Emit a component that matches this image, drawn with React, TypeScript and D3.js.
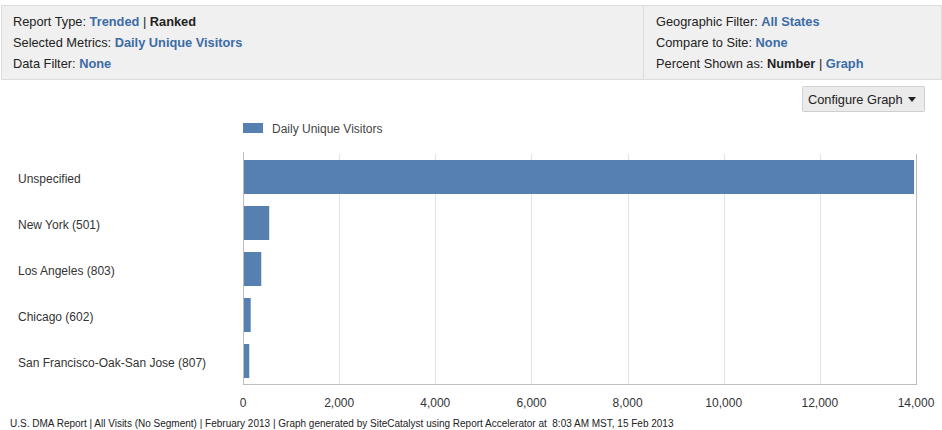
import React from "react";
import * as d3 from "d3";

const categories = [
  "Unspecified",
  "New York (501)",
  "Los Angeles (803)",
  "Chicago (602)",
  "San Francisco-Oak-San Jose (807)",
];
const values = [13960, 545, 380, 160, 130];
const xTicks = [0, 2000, 4000, 6000, 8000, 10000, 12000, 14000];
const seriesName = "Daily Unique Visitors";

const W = 942;
const H = 430;
const FONT = "'Liberation Sans', Arial, Helvetica, sans-serif";
const BLUE = "#3b6ca6";
const BAR = "#5680af";

export default function App() {
  const plot = { left: 243, right: 916, top: 154, bottom: 384 };
  const x = d3.scaleLinear().domain([0, 14000]).range([plot.left, plot.right]);
  const y = d3
    .scaleBand<string>()
    .domain(categories)
    .range([plot.top, plot.bottom])
    .paddingInner(0.26)
    .paddingOuter(0.13);
  const fmt = d3.format(",");

  const headerLeft: [string, string, boolean][][] = [
    [["Report Type: ", "#222", false], ["Trended", BLUE, true], [" | ", "#222", false], ["Ranked", "#222", true]],
    [["Selected Metrics: ", "#222", false], ["Daily Unique Visitors", BLUE, true]],
    [["Data Filter: ", "#222", false], ["None", BLUE, true]],
  ];
  const headerRight: [string, string, boolean][][] = [
    [["Geographic Filter: ", "#222", false], ["All States", BLUE, true]],
    [["Compare to Site: ", "#222", false], ["None", BLUE, true]],
    [["Percent Shown as: ", "#222", false], ["Number", "#222", true], [" | ", "#222", false], ["Graph", BLUE, true]],
  ];
  const lineY = [25.5, 47, 68];

  const renderLines = (lines: [string, string, boolean][][], x0: number) =>
    lines.map((parts, i) => (
      <text key={i} x={x0} y={lineY[i]} fontSize={12.8} fontFamily={FONT}>
        {parts.map((p, j) => (
          <tspan key={j} fill={p[1]} fontWeight={p[2] ? "bold" : "normal"}>
            {p[0]}
          </tspan>
        ))}
      </text>
    ));

  return (
    <svg
      width={W}
      height={H}
      style={{ position: "absolute", left: 0, top: 0, background: "#fff" }}
    >
      {/* header panel */}
      <rect x={1.5} y={5.5} width={940} height={74} fill="#f0f0f0" stroke="#dcdcdc" />
      <line x1={643.5} x2={643.5} y1={6} y2={79} stroke="#dcdcdc" />
      {renderLines(headerLeft, 13)}
      {renderLines(headerRight, 656)}

      {/* configure graph button */}
      <rect x={802.5} y={86.5} width={122} height={25} fill="#ebebeb" stroke="#cfcfcf" rx={1} />
      <text x={808} y={104} fontSize={12.8} fontFamily={FONT} fill="#222">
        Configure Graph
      </text>
      <path d="M908,97 L916,97 L912,102 Z" fill="#222" />

      {/* legend */}
      <rect x={243} y={123} width={20} height={10} fill={BAR} />
      <text x={272} y={133} fontSize={12} fontFamily={FONT} fill="#444">
        {seriesName}
      </text>

      {/* grid */}
      {xTicks.slice(1, -1).map((t) => (
        <line
          key={t}
          x1={Math.round(x(t)) + 0.5}
          x2={Math.round(x(t)) + 0.5}
          y1={plot.top}
          y2={plot.bottom}
          stroke="#e2e2e2"
        />
      ))}

      {/* bars */}
      {categories.map((c, i) => (
        <rect
          key={c}
          x={x(0)}
          y={y(c)}
          width={x(values[i]) - x(0)}
          height={y.bandwidth()}
          fill={BAR}
        />
      ))}

      {/* frame lines */}
      <line x1={plot.left + 0.5} x2={plot.left + 0.5} y1={plot.top - 2} y2={plot.bottom} stroke="#bdbdbd" />
      <line x1={plot.right + 0.5} x2={plot.right + 0.5} y1={plot.top} y2={plot.bottom + 1} stroke="#bdbdbd" />
      <line x1={plot.left} x2={plot.right + 1} y1={plot.bottom + 0.5} y2={plot.bottom + 0.5} stroke="#bdbdbd" />

      {/* category labels */}
      {categories.map((c) => (
        <text
          key={c}
          x={18}
          y={(y(c) as number) + y.bandwidth() / 2 + 2}
          dy="0.35em"
          fontSize={12}
          fontFamily={FONT}
          fill="#333"
        >
          {c}
        </text>
      ))}

      {/* x tick labels */}
      {xTicks.map((t) => (
        <text
          key={t}
          x={x(t)}
          y={407}
          textAnchor="middle"
          fontSize={12}
          fontFamily={FONT}
          fill="#333"
        >
          {fmt(t)}
        </text>
      ))}

      {/* footer */}
      <text x={10} y={427} fontSize={10} fontFamily={FONT} fill="#222">
        U.S. DMA Report | All Visits (No Segment) | February 2013 | Graph generated by SiteCatalyst using Report Accelerator at{"\u00a0"} 8:03 AM MST, 15 Feb 2013
      </text>
    </svg>
  );
}
